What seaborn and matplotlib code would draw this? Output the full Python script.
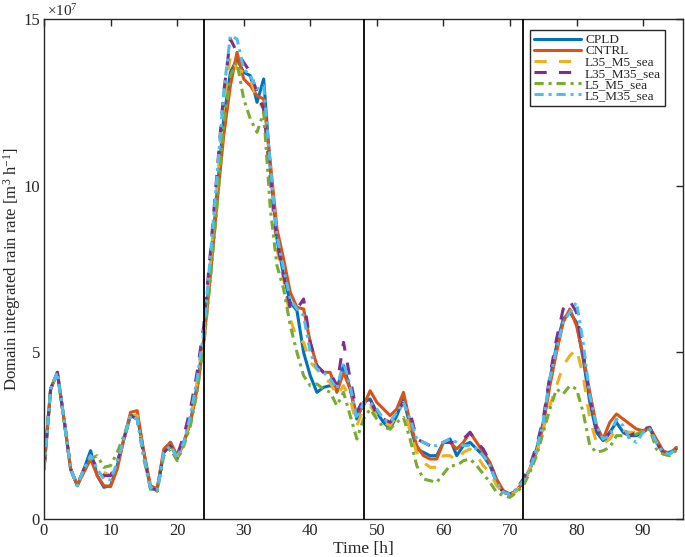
import numpy as np
import pandas as pd
import matplotlib
matplotlib.use("Agg")
import matplotlib.pyplot as plt
import seaborn as sns

time_h = list(range(0, 96))

cpld = [1.5, 3.9, 4.4, 3.0, 1.5, 1.0, 1.5, 2.05, 1.3, 0.95, 1.0, 1.6, 2.4, 3.1, 3.1, 2.0, 0.9, 0.9, 2.0, 2.3,
        1.8, 2.3, 2.9, 4.0, 5.4, 7.5, 9.8, 12.0, 13.4, 13.8, 13.4, 13.3, 12.5, 13.2, 10.5, 8.4, 7.3, 6.5, 6.25, 5.0,
        4.3, 3.8, 3.95, 4.0, 3.9, 4.6, 3.9, 3.0, 3.5, 3.6, 3.2, 2.9, 2.7, 3.1, 3.6, 2.8, 2.1, 2.0, 1.9, 1.9,
        2.3, 2.4, 1.9, 2.2, 2.3, 2.1, 1.9, 1.6, 1.1, 0.8, 0.75, 0.85, 1.1, 1.5, 2.1, 2.9, 4.2, 5.2, 6.0, 6.2,
        5.9, 4.8, 3.5, 2.6, 2.35, 2.6, 2.9, 2.6, 2.5, 2.5, 2.6, 2.75, 2.3, 2.0, 2.0, 2.1]
cntrl = [1.5, 3.9, 4.4, 3.0, 1.5, 1.0, 1.4, 1.8, 1.3, 1.0, 0.97, 1.5, 2.4, 3.2, 3.25, 2.0, 1.0, 0.9, 2.1, 2.3,
         1.9, 2.3, 2.9, 3.9, 5.3, 7.3, 9.5, 11.5, 13.0, 14.0, 13.2, 13.0, 12.7, 12.6, 10.7, 8.7, 7.8, 6.8, 6.35, 6.3,
         5.3, 4.6, 4.4, 4.4, 3.8, 4.4, 3.9, 3.1, 3.4, 3.85, 3.5, 3.3, 3.1, 3.3, 3.8, 2.9, 2.2, 1.9, 1.8, 1.8,
         2.3, 2.3, 2.1, 2.3, 2.6, 2.3, 2.0, 1.7, 1.2, 0.85, 0.75, 0.85, 1.1, 1.5, 2.0, 2.8, 4.0, 5.0, 5.9, 6.3,
         5.8, 4.9, 3.8, 2.8, 2.4, 2.9, 3.15, 3.0, 2.85, 2.7, 2.65, 2.75, 2.4, 2.05, 1.95, 2.15]
l35_m5 = [1.5, 3.9, 4.4, 3.0, 1.5, 1.0, 1.5, 1.9, 1.5, 1.4, 1.3, 1.7, 2.4, 3.1, 3.1, 1.9, 0.95, 0.85, 2.0, 2.2,
          1.85, 2.3, 3.0, 4.1, 5.5, 7.7, 10.0, 12.4, 13.9, 13.5, 13.4, 13.2, 12.6, 12.3, 10.0, 8.1, 7.2, 6.0, 5.4, 5.3,
          4.7, 4.5, 4.2, 4.1, 3.7, 4.0, 3.6, 2.8, 3.3, 3.4, 3.1, 2.9, 2.8, 3.1, 3.5, 2.6, 2.0, 1.7, 1.55, 1.55,
          1.9, 1.9, 1.75, 2.0, 2.1, 1.9, 1.6, 1.4, 1.0, 0.8, 0.7, 0.85, 1.1, 1.5, 2.0, 2.7, 3.4, 4.0, 4.6, 4.9,
          5.1, 4.3, 3.0, 2.3, 2.25, 2.4, 2.7, 2.65, 2.6, 2.6, 2.65, 2.7, 2.3, 1.95, 1.9, 2.05]
l35_m35 = [1.5, 3.9, 4.4, 3.0, 1.5, 1.0, 1.5, 1.9, 1.5, 1.3, 1.3, 1.7, 2.4, 3.1, 3.0, 1.9, 0.95, 0.85, 2.0, 2.2,
           1.9, 2.5, 3.3, 4.4, 5.8, 8.0, 10.4, 12.8, 14.4, 14.0, 13.7, 13.4, 12.8, 12.3, 10.3, 8.3, 7.3, 6.3, 6.3, 6.6,
           5.3, 4.6, 4.4, 4.4, 4.0, 5.3, 4.2, 3.2, 3.6, 3.6, 3.1, 3.0, 2.9, 3.2, 3.5, 3.2, 2.4, 2.3, 2.2, 2.2,
           2.3, 2.3, 2.3, 2.4, 2.6, 2.3, 2.1, 1.7, 1.1, 0.8, 0.75, 0.9, 1.2, 1.6, 2.2, 3.0, 4.3, 5.4, 6.3, 6.55,
           6.2, 5.0, 3.6, 2.7, 2.3, 2.6, 2.7, 2.6, 2.5, 2.6, 2.7, 2.75, 2.3, 2.0, 1.9, 2.1]
l5_m5 = [1.5, 3.9, 4.4, 3.0, 1.5, 1.0, 1.5, 1.8, 1.9, 1.55, 1.6, 2.0, 2.5, 3.1, 3.0, 1.8, 0.9, 0.83, 1.9, 2.1,
         1.75, 2.2, 2.8, 3.8, 5.2, 7.2, 9.4, 11.8, 13.3, 13.7, 12.6, 12.0, 11.6, 12.2, 9.3, 7.6, 6.9, 5.8, 5.0, 4.3,
         4.0, 4.05, 3.9, 3.8, 3.4, 3.8, 3.1, 2.4, 3.0, 3.3, 3.0, 2.75, 2.7, 2.9, 3.05, 2.4, 1.6, 1.2, 1.15, 1.1,
         1.35, 1.6, 1.6, 1.75, 1.8, 1.6, 1.35, 1.1, 0.8, 0.7, 0.65, 0.8, 1.0, 1.4, 1.9, 2.6, 3.3, 3.9, 3.75, 4.0,
         3.9, 3.2, 2.2, 2.0, 2.05, 2.15, 2.5, 2.5, 2.45, 2.55, 2.65, 2.7, 2.1, 1.95, 1.9, 2.05]
l5_m35 = [1.5, 3.9, 4.4, 3.0, 1.5, 1.0, 1.5, 1.9, 1.5, 1.2, 1.17, 1.7, 2.4, 3.1, 3.0, 1.9, 0.95, 0.85, 2.0, 2.2,
          1.85, 2.3, 3.1, 4.2, 5.6, 7.9, 10.3, 12.8, 14.5, 14.4, 13.5, 13.3, 12.9, 13.0, 10.6, 8.5, 7.5, 6.6, 6.3, 6.1,
          5.0, 4.5, 4.4, 4.2, 3.9, 4.7, 4.0, 3.0, 3.5, 3.5, 3.3, 3.0, 2.9, 3.2, 3.5, 3.0, 2.4, 2.3, 2.2, 2.2,
          2.3, 2.4, 2.3, 2.2, 2.2, 2.1, 1.9, 1.6, 1.1, 0.8, 0.75, 0.9, 1.15, 1.5, 2.1, 2.9, 4.2, 5.1, 5.9, 6.2,
          6.5, 5.3, 3.7, 2.8, 2.4, 2.5, 3.0, 2.8, 2.4, 2.3, 2.6, 2.7, 2.3, 2.0, 1.95, 2.1]

series_names = ["CPLD", "CNTRL", "L35_M5_sea", "L35_M35_sea", "L5_M5_sea", "L5_M35_sea"]
series_values = [cpld, cntrl, l35_m5, l35_m35, l5_m5, l5_m35]
colors = ["#0072BD", "#D95319", "#EDB120", "#7E2F8E", "#77AC30", "#4DBEEE"]
styles = ["-", "-", (0, (4, 4)), (0, (4, 4)), (0, (3, 1.6, 1, 1.6)), (0, (3, 1.6, 1, 1.6))]
day_lines = [24, 48, 72]
x_ticks = list(range(0, 100, 10))
y_ticks = [0, 5, 10, 15]

sns.set_theme(style="white")
plt.rcParams["font.family"] = ["Liberation Serif", "DejaVu Serif"]
plt.rcParams["mathtext.fontset"] = "custom"
plt.rcParams["mathtext.rm"] = "Liberation Serif"
plt.rcParams["mathtext.it"] = "Liberation Serif:italic"

fig = plt.figure(figsize=(6.85, 5.57), dpi=100)
ax = fig.add_axes([44 / 685, 38 / 557, 639 / 685, 500 / 557])

for name, vals, c, ls in zip(series_names, series_values, colors, styles):
    df = pd.DataFrame({"t": time_h, "v": vals})
    sns.lineplot(data=df, x="t", y="v", ax=ax, color=c, linestyle=ls, linewidth=2.2, label=name)

for d in day_lines:
    ax.axvline(d, color="black", linewidth=1.3, zorder=5)

ax.set_xlim(0, 96)
ax.set_ylim(0, 15)
ax.set_xticks(x_ticks)
ax.set_yticks(y_ticks)
ax.tick_params(direction="in", top=True, right=True, length=5, width=1, labelsize=12, colors="#262626", pad=3)
for sp in ax.spines.values():
    sp.set_color("#262626")
    sp.set_linewidth(1.0)
ax.set_xlabel("Time [h]", fontsize=12.5, labelpad=1, color="#262626")
ax.set_ylabel("Domain integrated rain rate [m$^3$ h$^{-1}$]", fontsize=12, color="#262626")
ax.yaxis.set_label_coords(-0.033, 0.5)
ax.text(0.004, 1.0, r"$\times 10^{7}$", transform=ax.transAxes, fontsize=11, ha="left", va="bottom", color="#262626")

leg = ax.legend(loc="upper right", bbox_to_anchor=(0.972, 0.978), fontsize=9.5, frameon=True, fancybox=False,
                edgecolor="#262626", framealpha=1, labelspacing=-0.08, handlelength=3.6, handletextpad=0.3,
                borderpad=0.3, borderaxespad=0)
leg.get_frame().set_linewidth(1.0)

fig.savefig("out.png", dpi=100)
